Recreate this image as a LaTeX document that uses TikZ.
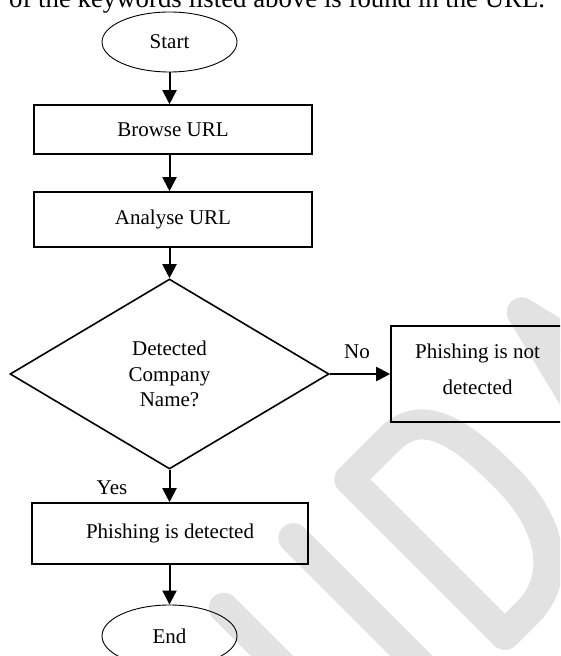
\documentclass[tikz,border=0pt]{standalone}
\usepackage{fontspec}
\setmainfont{Liberation Serif}
\usetikzlibrary{arrows.meta,shapes.geometric}
\definecolor{wmgray}{gray}{0.885}

\begin{document}
\begin{tikzpicture}[x=1pt,y=-1pt,
  flowbox/.style={draw,line width=1.6pt,inner sep=0pt,align=center,
    font=\fontsize{21}{36}\selectfont},
  terminal/.style={ellipse,draw,line width=0.9pt,inner sep=0pt,
    font=\fontsize{21}{25}\selectfont},
  decision/.style={diamond,draw,line width=1.6pt,inner sep=0pt,align=center,
    font=\fontsize{21}{25.5}\selectfont},
  flow/.style={line width=2pt,-{Triangle[length=14pt,width=14pt]}},
  lbl/.style={inner sep=0pt,font=\fontsize{21}{25}\selectfont},
  wm/.style={draw=wmgray,line width=30pt,line cap=round,line join=round}]

\useasboundingbox (0,0) rectangle (560,656);
\clip (0,0) rectangle (560,656);

% faint watermark lettering, running diagonally
\begin{scope}[x={(0.7071pt,0.7071pt)},y={(0.7071pt,-0.7071pt)}]
  \draw[wm] (-271.5,588) -- (-271.5,960);
  \draw[wm] (-173,588) -- (-173,960);
  \draw[wm] (-92,806) -- (-92,586) -- (-35,586)
    .. controls (15,586) and (20,640) .. (20,696)
    .. controls (20,760) and (-10,806) .. (-60,806) -- cycle;
  \draw[wm] (148,590) -- (95,805);
  \draw[wm] (148,590) -- (201,805);
\end{scope}

% preceding sentence, cut by the top edge
\node[anchor=base west,inner sep=0pt,font=\fontsize{26.8}{30}\selectfont]
  (intro) at (9,7.5) {of the keywords listed above is found in the URL.};

\coordinate (col) at (169.5,0);

\node[terminal,minimum width=135pt,minimum height=60pt] (start) at (169.5,42) {Start};
\node[flowbox,minimum width=278pt,minimum height=49pt] (browse) at (173,129.5) {Browse URL};
\node[flowbox,minimum width=278pt,minimum height=55pt] (analyse) at (173,219.5) {Analyse URL};
\node[decision,minimum width=319pt,minimum height=190pt] (check) at (169.5,374)
  {Detected\\Company\\Name?};
\node[flowbox,minimum width=173pt,minimum height=96pt,text depth=10pt] (notdet) at (477.5,374)
  {Phishing is not\\detected};
\node[flowbox,minimum width=276pt,minimum height=61pt] (det) at (170,533.5) {Phishing is detected};
\node[terminal,minimum width=135pt,minimum height=62pt] (end) at (169.5,636) {End};

\node[lbl] (no) at (357,352) {No};
\node[lbl] (yes) at (112,488) {Yes};

\draw[flow] (start.south) -- (start.south |- browse.north);
\draw[flow] (browse.south -| col) -- (analyse.north -| col);
\draw[flow] (analyse.south -| col) -- (check.north);
\draw[flow] (check.east) -- (notdet.west);
\draw[flow] (check.south) -- (check.south |- det.north);
\draw[flow] (det.south -| col) -- (end.north);
\end{tikzpicture}
\end{document}
